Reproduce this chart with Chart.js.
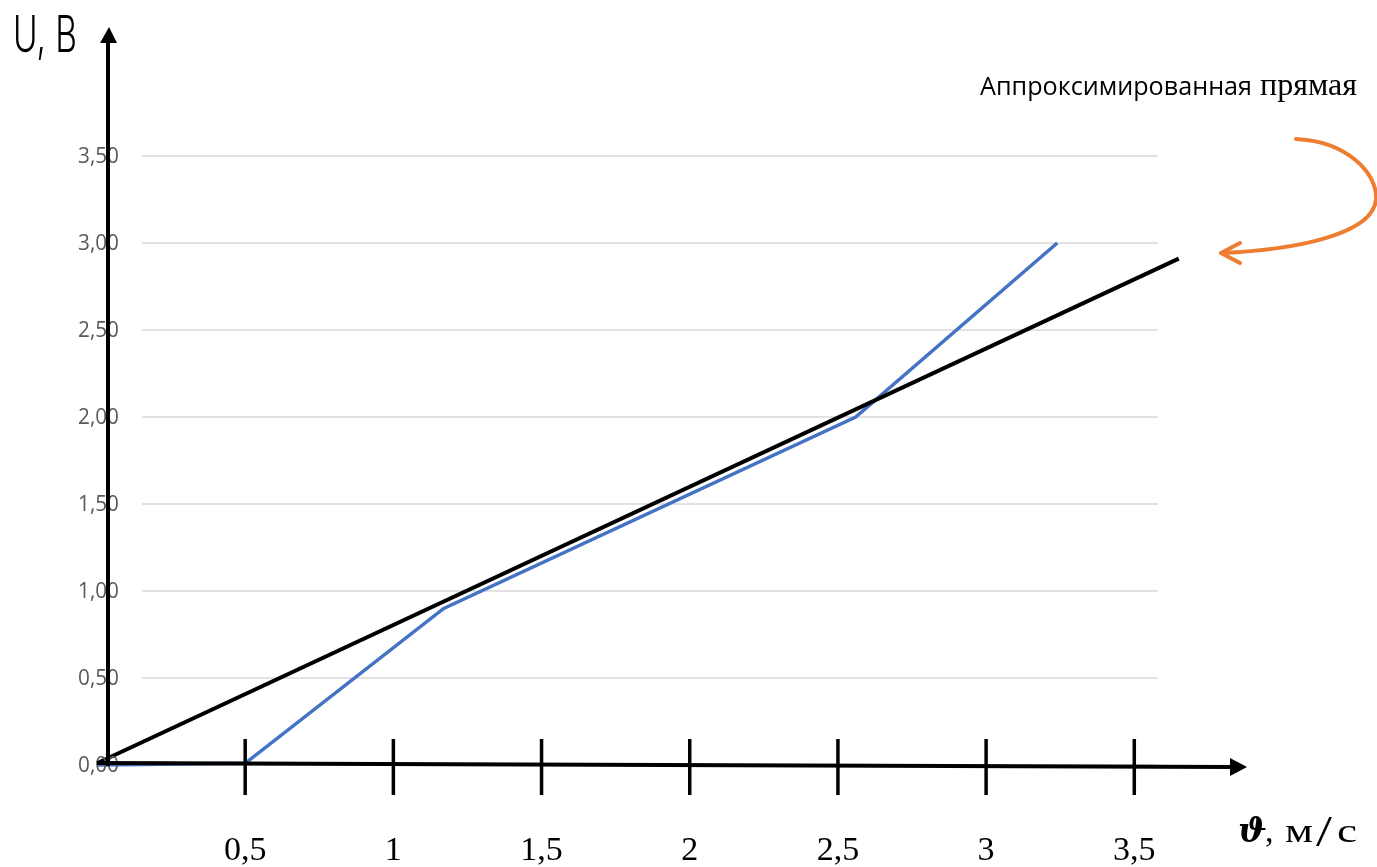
<!DOCTYPE html>
<html>
<head>
<meta charset="utf-8">
<script src="https://cdn.jsdelivr.net/npm/chart.js@4"></script>
<style>
  html, body { margin: 0; padding: 0; background: #fff; }
  canvas { display: block; }
</style>
</head>
<body>
<canvas id="chart" width="1377" height="867"></canvas>
<script>
// ============ данные ============
// скорость, м/с и напряжение, В (снятые точки)
const speedX   = [0, 0.5, 1.17, 2.56, 3.24];
const voltageY = [0, 0.01, 0.90, 2.00, 3.00];
// аппроксимированная прямая
const fitX = [0, 3.65];
const fitY = [0.01, 2.91];
// подписи осей
const xTickVals   = [0.5, 1, 1.5, 2, 2.5, 3, 3.5];
const xTickLabels = ['0,5', '1', '1,5', '2', '2,5', '3', '3,5'];
const yTickVals   = [0, 0.5, 1, 1.5, 2, 2.5, 3, 3.5];
const yTickLabels = ['0,00', '0,50', '1,00', '1,50', '2,00', '2,50', '3,00', '3,50'];

// текст, растянутый под нужную ширину
function drawFit(ctx, text, x, y, w, font) {
  ctx.save();
  ctx.font = font;
  const m = ctx.measureText(text).width;
  ctx.translate(x, y);
  ctx.scale(w / m, 1);
  ctx.fillText(text, 0, 0);
  ctx.restore();
}

function line(ctx, x1, y1, x2, y2) {
  ctx.beginPath(); ctx.moveTo(x1, y1); ctx.lineTo(x2, y2); ctx.stroke();
}

// сетка и подписи по Y (как в Excel)
const gridPlugin = {
  id: 'grid',
  beforeDatasetsDraw(chart) {
    const ctx = chart.ctx, ys = chart.scales.y, area = chart.chartArea;
    ctx.save();
    ctx.strokeStyle = '#d9d9d9';
    ctx.lineWidth = 1.5;
    yTickVals.forEach(v => {
      const py = ys.getPixelForValue(v);
      line(ctx, 142, py, area.right, py);
    });
    ctx.restore();
  }
};

// оси со стрелками, засечки, подписи
const axesPlugin = {
  id: 'axes',
  afterDatasetsDraw(chart) {
    const ctx = chart.ctx, xs = chart.scales.x, ys = chart.scales.y;
    const y0 = ys.getPixelForValue(0);
    ctx.save();

    // подписи Y
    ctx.fillStyle = '#595959';
    ctx.textBaseline = 'middle';
    yTickVals.forEach((v, i) => drawFit(ctx, yTickLabels[i], 78, ys.getPixelForValue(v) + 1, 41, "21px 'Open Sans'"));

    ctx.strokeStyle = '#000';
    ctx.fillStyle = '#000';
    ctx.lineWidth = 4;
    ctx.lineCap = 'butt';

    // ось X
    line(ctx, 97, y0 - 2, 1232, y0 + 2);
    ctx.beginPath();
    ctx.moveTo(1247, y0 + 2); ctx.lineTo(1230, y0 - 7); ctx.lineTo(1230, y0 + 11); ctx.closePath();
    ctx.fill();

    // ось Y
    line(ctx, 108, y0 + 1, 108, 42);
    ctx.beginPath();
    ctx.moveTo(109, 27); ctx.lineTo(100, 43); ctx.lineTo(117, 43); ctx.closePath();
    ctx.fill();

    // засечки и подписи X
    ctx.lineWidth = 3.5;
    ctx.font = "34px 'Liberation Serif'";
    ctx.textAlign = 'center';
    ctx.textBaseline = 'alphabetic';
    xTickVals.forEach((v, i) => {
      const px = xs.getPixelForValue(v);
      line(ctx, px, y0 - 26, px, y0 + 30);
      ctx.fillText(xTickLabels[i], px, 860);
    });

    // названия осей
    ctx.textAlign = 'left';
    drawFit(ctx, 'U, B', 13, 52, 64, "300 50px Inter, 'Liberation Sans Narrow', sans-serif");
    ctx.font = "bold italic 34px 'DejaVu Serif'";
    ctx.fillText('ϑ', 1238, 842);
    ctx.font = "34px 'Liberation Serif'";
    ctx.fillText(',', 1265, 842);
    drawFit(ctx, 'м', 1285, 842, 28, "34px 'Liberation Serif'");
    drawFit(ctx, '/', 1316, 846, 16, "44px 'Liberation Serif'");
    drawFit(ctx, 'с', 1337, 842, 20, "34px 'Liberation Serif'");

    // подпись прямой
    drawFit(ctx, 'Аппроксимированная', 980, 95, 272, "25px 'Open Sans'");
    drawFit(ctx, 'прямая', 1260, 95, 97, "31px 'Liberation Serif'");

    // оранжевая стрелка
    ctx.strokeStyle = '#ED7D31';
    ctx.lineWidth = 4;
    ctx.lineCap = 'round';
    ctx.beginPath();
    ctx.moveTo(1296, 139);
    ctx.bezierCurveTo(1345, 141, 1378, 172, 1376, 200);
    ctx.bezierCurveTo(1372, 236, 1290, 250, 1222, 253);
    ctx.stroke();
    line(ctx, 1221, 253, 1240, 243);
    line(ctx, 1221, 253, 1240, 263);

    ctx.restore();
  }
};

new Chart(document.getElementById('chart'), {
  type: 'scatter',
  data: {
    datasets: [
      {
        data: fitX.map((x, i) => ({x: x, y: fitY[i]})),
        showLine: true, borderColor: '#000', borderWidth: 4, pointRadius: 0, clip: false
      },
      {
        data: speedX.map((x, i) => ({x: x, y: voltageY[i]})),
        showLine: true, borderColor: '#4472C4', borderWidth: 3.5, pointRadius: 0, clip: false
      }
    ]
  },
  options: {
    responsive: false,
    animation: false,
    devicePixelRatio: 1,
    layout: {padding: {left: 97, right: 219, top: 156, bottom: 102}},
    plugins: {legend: {display: false}, tooltip: {enabled: false}},
    scales: {
      x: {type: 'linear', min: 0, max: 3.58, display: false},
      y: {min: 0, max: 3.5, display: false}
    }
  },
  plugins: [gridPlugin, axesPlugin]
});
</script>
</body>
</html>
